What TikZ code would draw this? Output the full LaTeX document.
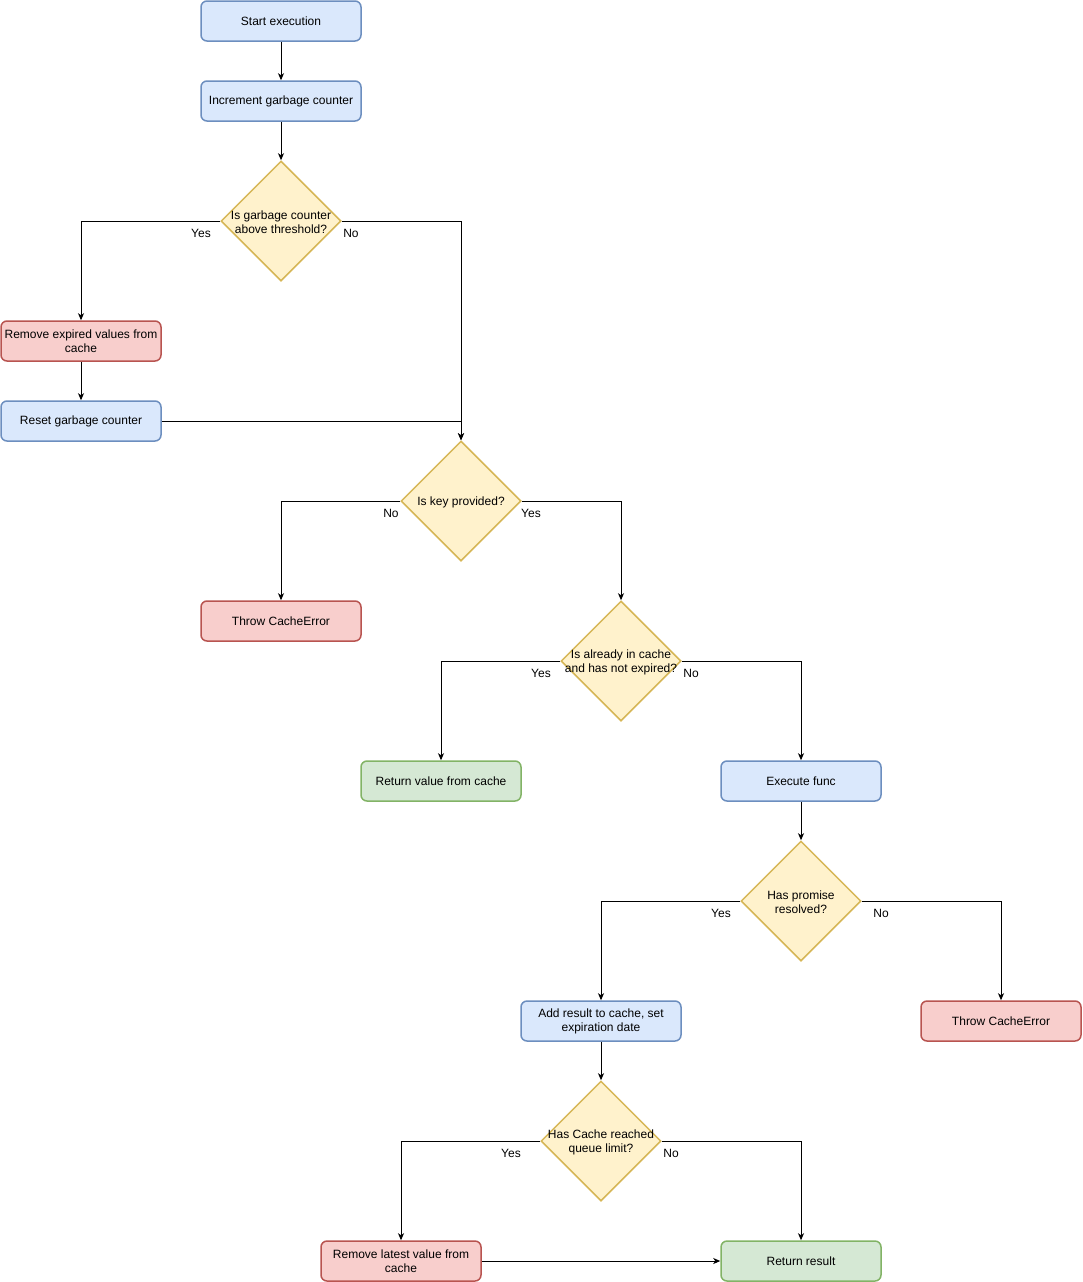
\documentclass[tikz,border=0pt]{standalone}
\usepackage{fontspec}
\setmainfont{Liberation Sans}
\usetikzlibrary{shapes.geometric,arrows.meta}
\definecolor{bfill}{HTML}{DAE8FC}\definecolor{bdraw}{HTML}{6C8EBF}
\definecolor{rfill}{HTML}{F8CECC}\definecolor{rdraw}{HTML}{B85450}
\definecolor{gfill}{HTML}{D5E8D4}\definecolor{gdraw}{HTML}{82B366}
\definecolor{yfill}{HTML}{FFF2CC}\definecolor{ydraw}{HTML}{D6B656}
\tikzset{
  box/.style={rectangle, rounded corners=6pt, minimum width=160pt, minimum height=40pt, line width=1.5pt, inner sep=2pt, align=center, font=\fontsize{12}{14}\selectfont},
  bluebox/.style={box, fill=bfill, draw=bdraw},
  redbox/.style={box, fill=rfill, draw=rdraw},
  greenbox/.style={box, fill=gfill, draw=gdraw},
  dia/.style={diamond, aspect=1, minimum width=120pt, minimum height=120pt, inner sep=0pt, fill=yfill, draw=ydraw, line width=1.5pt},
  diatext/.style={align=center, inner sep=0pt, font=\fontsize{12}{14}\selectfont, yshift=-1pt},
  lbl/.style={inner sep=0pt, font=\fontsize{12}{14}\selectfont, yshift=-1pt},
  arr/.style={line width=1pt, -{Stealth[length=7pt,width=6pt,inset=2pt]}},
}
\begin{document}
\begin{tikzpicture}[x=1pt,y=-1pt]
\useasboundingbox (0,0) rectangle (1083,1282);
% nodes
\node[bluebox] (start) at (281,21) {Start execution};
\node[bluebox] (inc) at (281,101) {Increment garbage counter};
\node[dia] (d1) at (281,221) {};
\node[diatext] (d1t) at (281,221) {Is garbage counter\\above threshold?};
\node[redbox] (rem) at (81,341) {Remove expired values from\\cache};
\node[bluebox] (reset) at (81,421) {Reset garbage counter};
\node[dia] (d2) at (461,501) {};
\node[diatext] (d2t) at (461,501) {Is key provided?};
\node[redbox] (thr1) at (281,621) {Throw CacheError};
\node[dia] (d3) at (621,661) {};
\node[diatext] (d3t) at (621,661) {Is already in cache\\and has not expired?};
\node[greenbox] (retv) at (441,781) {Return value from cache};
\node[bluebox] (exec) at (801,781) {Execute func};
\node[dia] (d4) at (801,901) {};
\node[diatext] (d4t) at (801,901) {Has promise\\resolved?};
\node[bluebox] (add) at (601,1021) {Add result to cache, set\\expiration date};
\node[redbox] (thr2) at (1001,1021) {Throw CacheError};
\node[dia] (d5) at (601,1141) {};
\node[diatext] (d5t) at (601,1141) {Has Cache reached\\queue limit?};
\node[redbox] (reml) at (401,1261) {Remove latest value from\\cache};
\node[greenbox] (res) at (801,1261) {Return result};
% edges
\draw[arr] (start) -- (inc);
\draw[arr] (inc) -- (d1);
\draw[arr] (d1.west) -| (rem.north);
\draw[arr] (d1.east) -| (d2.north);
\draw[arr] (rem) -- (reset);
\draw[arr] (reset.east) -| (d2.north);
\draw[arr] (d2.west) -| (thr1.north);
\draw[arr] (d2.east) -| (d3.north);
\draw[arr] (d3.west) -| (retv.north);
\draw[arr] (d3.east) -| (exec.north);
\draw[arr] (exec) -- (d4);
\draw[arr] (d4.west) -| (add.north);
\draw[arr] (d4.east) -| (thr2.north);
\draw[arr] (add) -- (d5);
\draw[arr] (d5.west) -| (reml.north);
\draw[arr] (d5.east) -| (res.north);
\draw[arr] (reml) -- (res);
% edge labels
\node[lbl] (l1) at (201,232) {Yes};
\node[lbl] (l2) at (351,232) {No};
\node[lbl] (l3) at (391,512) {No};
\node[lbl] (l4) at (531,512) {Yes};
\node[lbl] (l5) at (541,672) {Yes};
\node[lbl] (l6) at (691,672) {No};
\node[lbl] (l7) at (721,912) {Yes};
\node[lbl] (l8) at (881,912) {No};
\node[lbl] (l9) at (511,1152) {Yes};
\node[lbl] (l10) at (671,1152) {No};
\end{tikzpicture}
\end{document}
